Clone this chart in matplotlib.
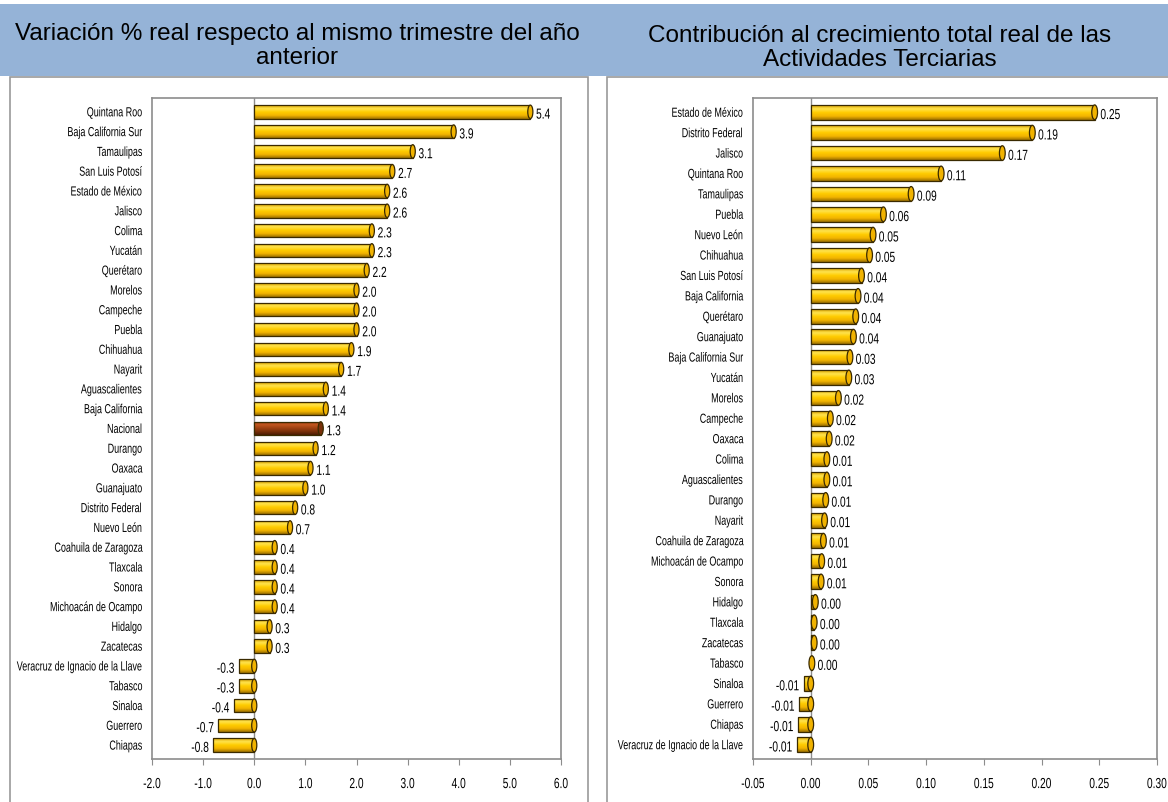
import numpy as np
import matplotlib
matplotlib.use("Agg")
import matplotlib.pyplot as plt
from matplotlib.colors import LinearSegmentedColormap
from matplotlib.patches import Rectangle, Ellipse
from matplotlib.patheffects import AbstractPathEffect
from matplotlib.transforms import Affine2D

plt.rcParams["font.family"] = ["Liberation Sans", "DejaVu Sans"]

# left chart: variacion % real
estados_var = ["Quintana Roo", "Baja California Sur", "Tamaulipas", "San Luis Potosí",
               "Estado de México", "Jalisco", "Colima", "Yucatán", "Querétaro", "Morelos",
               "Campeche", "Puebla", "Chihuahua", "Nayarit", "Aguascalientes",
               "Baja California", "Nacional", "Durango", "Oaxaca", "Guanajuato",
               "Distrito Federal", "Nuevo León", "Coahuila de Zaragoza", "Tlaxcala", "Sonora",
               "Michoacán de Ocampo", "Hidalgo", "Zacatecas", "Veracruz de Ignacio de la Llave",
               "Tabasco", "Sinaloa", "Guerrero", "Chiapas"]
var = [5.4, 3.9, 3.1, 2.7, 2.6, 2.6, 2.3, 2.3, 2.2, 2.0, 2.0, 2.0, 1.9, 1.7, 1.4, 1.4,
       1.3, 1.2, 1.1, 1.0, 0.8, 0.7, 0.4, 0.4, 0.4, 0.4, 0.3, 0.3, -0.3, -0.3, -0.4, -0.7, -0.8]
ticks_var = [-2.0, -1.0, 0.0, 1.0, 2.0, 3.0, 4.0, 5.0, 6.0]

# right chart: contribucion al crecimiento
estados_con = ["Estado de México", "Distrito Federal", "Jalisco", "Quintana Roo", "Tamaulipas",
               "Puebla", "Nuevo León", "Chihuahua", "San Luis Potosí", "Baja California",
               "Querétaro", "Guanajuato", "Baja California Sur", "Yucatán", "Morelos",
               "Campeche", "Oaxaca", "Colima", "Aguascalientes", "Durango", "Nayarit",
               "Coahuila de Zaragoza", "Michoacán de Ocampo", "Sonora", "Hidalgo", "Tlaxcala",
               "Zacatecas", "Tabasco", "Sinaloa", "Guerrero", "Chiapas",
               "Veracruz de Ignacio de la Llave"]
con = [0.246, 0.192, 0.166, 0.113, 0.087, 0.063, 0.054, 0.051, 0.044, 0.041, 0.039, 0.037,
       0.034, 0.033, 0.024, 0.017, 0.016, 0.014, 0.014, 0.013, 0.012, 0.011, 0.0095, 0.009,
       0.004, 0.003, 0.003, 0.001, -0.006, -0.010, -0.011, -0.012]
ticks_con = [-0.05, 0.0, 0.05, 0.10, 0.15, 0.20, 0.25, 0.30]

gold = LinearSegmentedColormap.from_list("gold", ["#D9A200", "#FFE34D", "#FFCC00", "#F2B400", "#9C7000"])
brown = LinearSegmentedColormap.from_list("brown", ["#8A3A10", "#C2571F", "#9E4212", "#7A300A", "#4A1C04"])
grad = np.linspace(0, 1, 64).reshape(-1, 1)


class Squeeze(AbstractPathEffect):
    # narrow the glyphs horizontally, to imitate a condensed font
    def __init__(self, sx=0.75, align="left"):
        super().__init__()
        self.sx = sx
        self.align = align

    def draw_path(self, renderer, gc, tpath, affine, rgbFace=None):
        ext = tpath.get_extents(affine)
        if self.align == "right":
            x0 = ext.x1
        elif self.align == "center":
            x0 = (ext.x0 + ext.x1) / 2
        else:
            x0 = ext.x0
        t = affine + Affine2D().translate(-x0, 0).scale(self.sx, 1).translate(x0, 0)
        renderer.draw_path(gc, tpath, t, rgbFace)


SX = 0.7
W, H = 1168, 803
fig = plt.figure(figsize=(W / 100, H / 100), dpi=100)

# header band and panel frames
fig.patches.append(Rectangle((0, 1 - 77 / H), 1, 72 / H, transform=fig.transFigure,
                             facecolor="#95B3D7", edgecolor="none", zorder=-3))
for x0, x1 in [(10, 588), (607, 1175)]:
    fig.patches.append(Rectangle((x0 / W, -0.01), (x1 - x0) / W, 1.01 - 78 / H,
                                 transform=fig.transFigure, facecolor="white",
                                 edgecolor="#9A9A9A", lw=1.2, zorder=-2))

fig.text(297 / W, 1 - 46 / H, "Variación % real respecto al mismo trimestre del año\nanterior",
         ha="center", va="center", fontsize=17.5, linespacing=1.12)
fig.text(880 / W, 1 - 48 / H, "Contribución al crecimiento total real de las\nActividades Terciarias",
         ha="center", va="center", fontsize=17.5, linespacing=1.12)


def draw(ax, names, vals, ticks, fmt, capw, bh, highlight=None):
    y = np.arange(len(vals))
    bars = ax.barh(y, vals, height=bh, facecolor="none", edgecolor="#3A2A00", lw=0.9, zorder=3)
    for i, b in enumerate(bars):
        cm = brown if names[i] == highlight else gold
        x0 = b.get_x()
        x1 = x0 + b.get_width()
        im = ax.imshow(grad, extent=(min(x0, x1), max(x0, x1), i + bh / 2, i - bh / 2),
                       origin="upper", aspect="auto", cmap=cm, zorder=2)
        im.set_clip_path(b)
        ax.add_patch(Ellipse((max(vals[i], 0), i), capw, bh,
                             facecolor=cm(0.75), edgecolor="#3A2A00", lw=0.9, zorder=4))
        lab = fmt.format(vals[i])
        if vals[i] >= 0:
            ax.annotate(lab, (vals[i], i), xytext=(4, -2), textcoords="offset points",
                        ha="left", va="center", fontsize=10.5,
                        path_effects=[Squeeze(SX, "left")])
        else:
            ax.annotate(lab, (vals[i], i), xytext=(-3, -2), textcoords="offset points",
                        ha="right", va="center", fontsize=10.5,
                        path_effects=[Squeeze(SX, "right")])
    ax.axvline(0, color="#8C8C8C", lw=1, zorder=1)
    ax.set_yticks(y)
    ax.set_yticklabels(names, fontsize=9.5, path_effects=[Squeeze(0.68, "right")])
    ax.set_xticks(ticks)
    ax.set_xticklabels([fmt.format(t) for t in ticks], fontsize=10.5,
                       path_effects=[Squeeze(SX, "center")])
    ax.set_xlim(ticks[0], ticks[-1])
    ax.set_ylim(len(vals) - 0.3, -0.7)
    ax.tick_params(axis="y", length=0, pad=7)
    ax.tick_params(axis="x", length=4, color="#8C8C8C", pad=9)
    for s in ax.spines.values():
        s.set_color("#8C8C8C")
        s.set_linewidth(1.2)


ax1 = fig.add_axes([152 / W, 1 - 760 / H, (561 - 152) / W, (760 - 99) / H])
draw(ax1, estados_var, var, ticks_var, "{:.1f}", 0.1, 0.68, highlight="Nacional")

ax2 = fig.add_axes([753 / W, 1 - 760 / H, (1157 - 753) / W, (760 - 99) / H])
draw(ax2, estados_con, con, ticks_con, "{:.2f}", 0.005, 0.72)

fig.savefig("out.png", dpi=100)
